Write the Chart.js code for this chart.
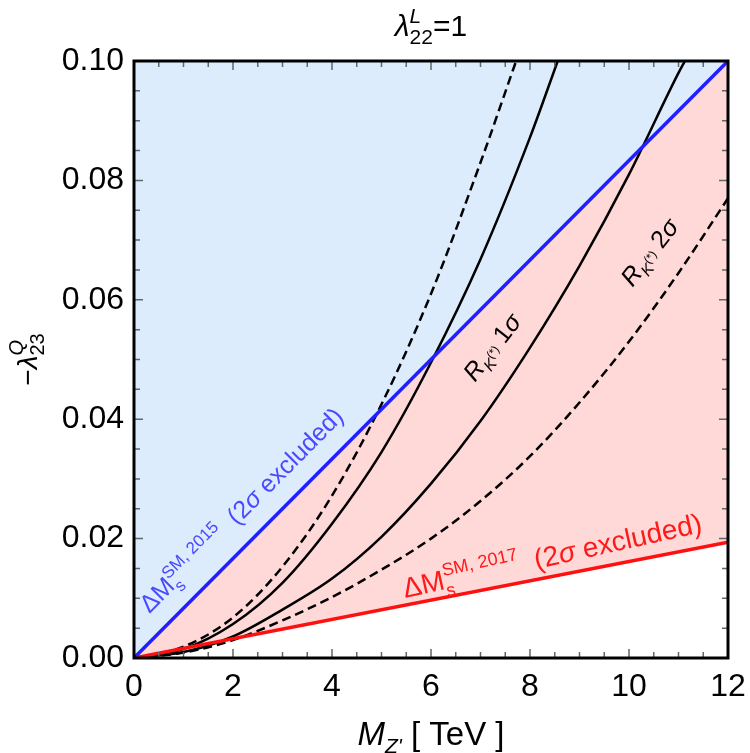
<!DOCTYPE html>
<html>
<head>
<meta charset="utf-8">
<script src="https://cdn.jsdelivr.net/npm/chart.js@4.4.0/dist/chart.umd.min.js"></script>
<style>
  html, body { margin: 0; padding: 0; background: #fff; }
</style>
</head>
<body>
<canvas id="chart" width="750" height="753"></canvas>
<script>
// axis ranges / ticks
const xMin = 0, xMax = 12, xStep = 2, xMinor = 0.5;
const yMin = 0, yMax = 0.10, yStep = 0.02, yMinor = 0.005;

// Delta M_s bounds (straight lines)
const blueX = [0, 12];
const blueY = [0, 0.10];
const redX = [0, 12];
const redY = [0, 0.0194];

// R_K(*) contours
const dash1X = [0, 1, 2, 3, 4, 5, 6, 7, 7.72];
const dash1Y = [0, 0.0019, 0.0068, 0.0153, 0.0272, 0.0425, 0.061, 0.083, 0.10];
const solid1X = [0, 1, 2, 3, 4, 5, 6, 7, 8, 8.56];
const solid1Y = [0, 0.0015, 0.0057, 0.0126, 0.0225, 0.0345, 0.0495, 0.0668, 0.0872, 0.10];
const solid2X = [0, 1, 2, 3, 4, 5, 6, 7, 8, 9, 10, 11, 11.13];
const solid2Y = [0, 0.001, 0.0036, 0.0081, 0.0133, 0.0203, 0.0292, 0.0397, 0.052, 0.0657, 0.081, 0.098, 0.10];
const dash2X = [0, 1, 2, 3, 4, 5, 6, 7, 8, 9, 10, 11, 12];
const dash2Y = [0, 0.0009, 0.003, 0.0063, 0.0102, 0.0148, 0.02, 0.0263, 0.0338, 0.0428, 0.053, 0.0645, 0.077];

const FONT = '"Liberation Sans", Arial, sans-serif';
const toPts = (xs, ys) => xs.map((x, i) => ({ x: x, y: ys[i] }));

function setFont(ctx, p) {
  ctx.font = (p.it ? 'italic ' : '') + p.size + 'px ' + FONT;
}
function partWidth(ctx, p) {
  if (p.stack) {
    return Math.max(...p.stack.map(q => { setFont(ctx, q); return ctx.measureText(q.t).width; }));
  }
  setFont(ctx, p);
  return ctx.measureText(p.t).width;
}
// draw text made of pieces (sub/superscripts) along a rotated baseline
function drawRich(ctx, parts, x, y, angle, color, center) {
  ctx.save();
  ctx.translate(x, y);
  ctx.rotate(angle);
  ctx.fillStyle = color;
  ctx.textAlign = 'left';
  ctx.textBaseline = 'alphabetic';
  const total = parts.reduce((s, p) => s + partWidth(ctx, p), 0);
  let cx = center ? -total / 2 : 0;
  parts.forEach(p => {
    const w = partWidth(ctx, p);
    (p.stack || [p]).forEach(q => {
      setFont(ctx, q);
      ctx.fillText(q.t, cx, q.dy || 0);
    });
    cx += w;
  });
  ctx.restore();
}

const labelPlugin = {
  id: 'labels',
  afterDatasetsDraw(chart) {
    const ctx = chart.ctx;
    const xs = chart.scales.x, ys = chart.scales.y;
    const px = v => xs.getPixelForValue(v);
    const py = v => ys.getPixelForValue(v);

    // label along a straight line, offset to its upper side
    function alongLine(lx, ly, x0, off, parts, color, angle) {
      const la = Math.atan2(py(ly[1]) - py(ly[0]), px(lx[1]) - px(lx[0]));
      const a = angle !== undefined ? angle : la;
      const yv = ly[0] + (ly[1] - ly[0]) * (x0 - lx[0]) / (lx[1] - lx[0]);
      const bx = px(x0) + off * Math.sin(la);
      const by = py(yv) - off * Math.cos(la);
      drawRich(ctx, parts, bx, by, a, color, false);
    }

    alongLine(blueX, blueY, 0.6, 20, [
      { t: 'ΔM', size: 25 },
      { stack: [{ t: 'SM, 2015', size: 17, dy: -11 }, { t: 's', size: 17, dy: 7 }] },
      { t: '  (2', size: 25 }, { t: 'σ', size: 25, it: true }, { t: ' excluded)', size: 25 }
    ], '#4a4aff');

    alongLine(redX, redY, 5.5, 7, [
      { t: 'ΔM', size: 28 },
      { stack: [{ t: 'SM, 2017', size: 18, dy: -13 }, { t: 's', size: 18, dy: 8 }] },
      { t: '  (2', size: 28 }, { t: 'σ', size: 28, it: true }, { t: ' excluded)', size: 28 }
    ], '#ff1a1a', -12.5 * Math.PI / 180);

    const rk = s => [
      { t: 'R', size: 25, it: true },
      { t: 'K', size: 16, it: true, dy: 6 },
      { t: '(*)', size: 12, dy: -1 },
      { t: ' ' + s, size: 25 }, { t: 'σ', size: 25, it: true }
    ];
    drawRich(ctx, rk('1'), px(6.89), py(0.0461), -52 * Math.PI / 180, '#000', false);
    drawRich(ctx, rk('2'), px(10.07), py(0.062), -52 * Math.PI / 180, '#000', false);

    // title
    drawRich(ctx, [
      { t: 'λ', size: 30, it: true },
      { stack: [{ t: 'L', size: 21, it: true, dy: -13 }, { t: '22', size: 21, dy: 8 }] },
      { t: '=1', size: 30 }
    ], (chart.chartArea.left + chart.chartArea.right) / 2, 36, 0, '#000', true);

    // y title
    drawRich(ctx, [
      { t: '−', size: 28 },
      { t: 'λ', size: 28, it: true },
      { stack: [{ t: 'Q', size: 20, it: true, dy: -14 }, { t: '23', size: 20, dy: 7 }] }
    ], 37, (chart.chartArea.top + chart.chartArea.bottom) / 2, -Math.PI / 2, '#000', true);

    // x title
    drawRich(ctx, [
      { t: 'M', size: 33, it: true },
      { t: "Z'", size: 21, it: true, dy: 8 },
      { t: ' [ TeV ]', size: 33 }
    ], (chart.chartArea.left + chart.chartArea.right) / 2, 745, 0, '#000', true);
  },
  afterDraw(chart) {
    const ctx = chart.ctx;
    const a = chart.chartArea;
    const xs = chart.scales.x, ys = chart.scales.y;
    ctx.save();
    ctx.strokeStyle = '#666';
    ctx.lineWidth = 1.5;
    ctx.beginPath();
    for (let v = xMin; v <= xMax + 1e-9; v += xMinor) {
      const p = xs.getPixelForValue(v);
      const len = Math.abs(v / xStep - Math.round(v / xStep)) < 1e-6 ? 9 : 6;
      ctx.moveTo(p, a.bottom); ctx.lineTo(p, a.bottom - len);
      ctx.moveTo(p, a.top); ctx.lineTo(p, a.top + len);
    }
    for (let v = yMin; v <= yMax + 1e-9; v += yMinor) {
      const p = ys.getPixelForValue(v);
      const len = Math.abs(v / yStep - Math.round(v / yStep)) < 1e-6 ? 9 : 6;
      ctx.moveTo(a.left, p); ctx.lineTo(a.left + len, p);
      ctx.moveTo(a.right, p); ctx.lineTo(a.right - len, p);
    }
    ctx.stroke();
    ctx.strokeStyle = '#000';
    ctx.lineWidth = 3;
    ctx.strokeRect(a.left, a.top, a.right - a.left, a.bottom - a.top);
    ctx.restore();
  }
};

const curve = (xs, ys, dashed) => ({
  data: toPts(xs, ys),
  borderColor: '#000',
  borderWidth: 2.5,
  borderDash: dashed ? [9, 5] : [],
  fill: false,
  pointRadius: 0,
  cubicInterpolationMode: 'monotone'
});

new Chart(document.getElementById('chart'), {
  type: 'line',
  data: {
    datasets: [
      { data: toPts(blueX, blueY), borderColor: '#1f1fff', borderWidth: 3.5, pointRadius: 0,
        fill: 'end', backgroundColor: 'rgb(220,236,252)' },
      { data: toPts(redX, redY), borderColor: '#ff1010', borderWidth: 3.5, pointRadius: 0,
        fill: 0, backgroundColor: 'rgb(255,216,216)' },
      curve(dash1X, dash1Y, true),
      curve(solid1X, solid1Y, false),
      curve(solid2X, solid2Y, false),
      curve(dash2X, dash2Y, true)
    ]
  },
  options: {
    responsive: false,
    animation: false,
    devicePixelRatio: 1,
    layout: { padding: { top: 61, right: 22, left: 0, bottom: 0 } },
    plugins: {
      legend: { display: false },
      tooltip: { enabled: false },
      filler: { drawTime: 'beforeDatasetsDraw' }
    },
    scales: {
      x: {
        type: 'linear', min: xMin, max: xMax,
        grid: { display: false, drawTicks: false },
        border: { display: false },
        ticks: { stepSize: xStep, padding: 10, color: '#000', font: { size: 32, family: FONT }, maxRotation: 0 },
        afterFit: s => { s.height = 95; s.paddingLeft = 0; s.paddingRight = 0; }
      },
      y: {
        type: 'linear', min: yMin, max: yMax,
        grid: { display: false, drawTicks: false },
        border: { display: false },
        ticks: { stepSize: yStep, padding: 10, color: '#000', font: { size: 32, family: FONT },
          callback: v => v.toFixed(2) },
        afterFit: s => { s.width = 134; s.paddingTop = 0; s.paddingBottom = 0; }
      }
    }
  },
  plugins: [labelPlugin]
});
</script>
</body>
</html>
